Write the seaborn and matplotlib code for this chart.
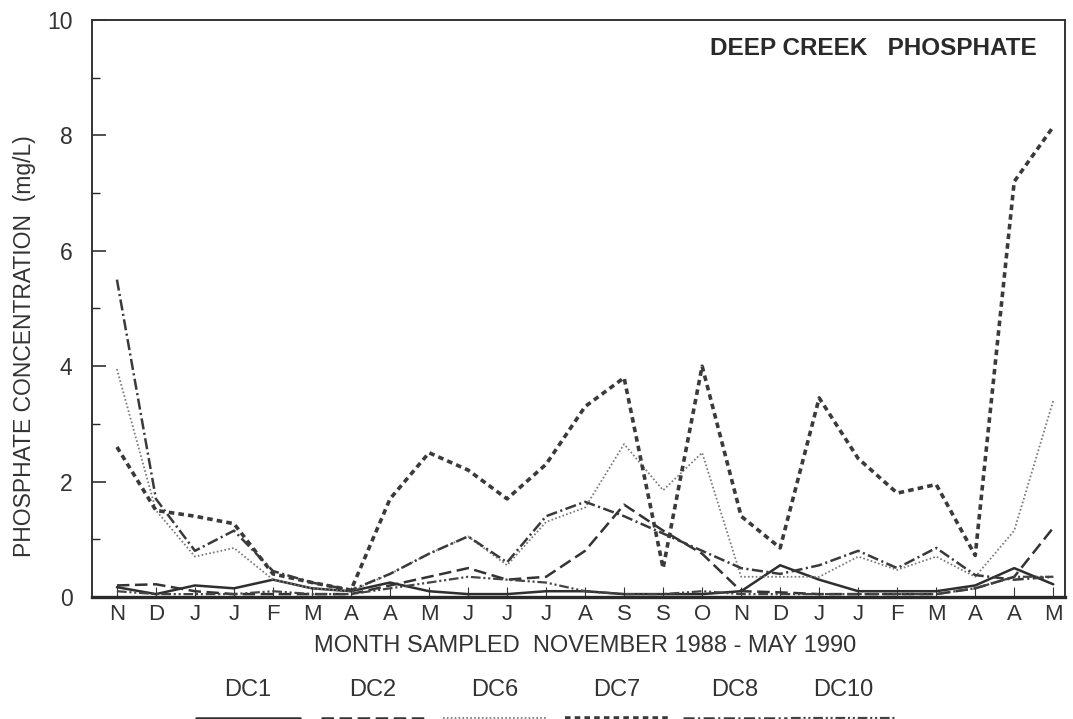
import numpy as np
import pandas as pd
import seaborn as sns
import matplotlib.pyplot as plt
from matplotlib.lines import Line2D

# month labels along the x axis (Nov 1988 - May 1990, some months sampled twice)
months = ["N", "D", "J", "J", "F", "M", "A", "A", "M", "J", "J", "J", "A",
          "S", "S", "O", "N", "D", "J", "J", "F", "M", "A", "A", "M"]

# phosphate concentration (mg/L)
dc1 = [0.17, 0.05, 0.2, 0.15, 0.3, 0.15, 0.1, 0.25, 0.1, 0.05, 0.05, 0.1, 0.1,
       0.05, 0.05, 0.05, 0.1, 0.55, 0.3, 0.1, 0.1, 0.1, 0.2, 0.5, 0.22]
dc2 = [0.2, 0.22, 0.1, 0.05, 0.05, 0.05, 0.05, 0.2, 0.35, 0.5, 0.3, 0.35, 0.8,
       1.6, 1.15, 0.75, 0.1, 0.08, 0.05, 0.05, 0.05, 0.05, 0.15, 0.35, 1.2]
dc6 = [3.95, 1.5, 0.7, 0.85, 0.3, 0.15, 0.1, 0.4, 0.75, 1.05, 0.55, 1.3, 1.55,
       2.65, 1.85, 2.5, 0.35, 0.35, 0.35, 0.7, 0.47, 0.7, 0.35, 1.15, 3.4]
dc7 = [2.6, 1.5, 1.4, 1.27, 0.4, 0.25, 0.12, 1.7, 2.5, 2.2, 1.7, 2.3, 3.3,
       3.8, 0.5, 4.0, 1.4, 0.85, 3.45, 2.4, 1.8, 1.95, 0.72, 7.2, 8.15]
dc8 = [5.5, 1.7, 0.8, 1.15, 0.45, 0.25, 0.12, 0.4, 0.75, 1.05, 0.6, 1.4, 1.65,
       1.4, 1.1, 0.8, 0.5, 0.4, 0.55, 0.8, 0.5, 0.85, 0.38, 0.3, 0.35]
dc10 = [0.1, 0.05, 0.05, 0.05, 0.1, 0.05, 0.05, 0.15, 0.25, 0.35, 0.3, 0.25, 0.1,
        0.05, 0.05, 0.1, 0.05, 0.05, 0.05, 0.05, 0.05, 0.05, 0.15, 0.35, 0.35]

sites = ["DC1", "DC2", "DC6", "DC7", "DC8", "DC10"]
series = [dc1, dc2, dc6, dc7, dc8, dc10]

# line looks per site (dashes in points)
looks = {
    "DC1": dict(ls="-", lw=1.8, color="#2e2e2e"),
    "DC2": dict(ls=(0, (9, 4)), lw=1.8, color="#333333"),
    "DC6": dict(ls=(0, (1.2, 1.6)), lw=1.3, color="#7a7a7a"),
    "DC7": dict(ls=(0, (4, 3)), lw=2.6, color="#3a3a3a"),
    "DC8": dict(ls=(0, (8, 2.5, 1.5, 2.5)), lw=1.8, color="#3a3a3a"),
    "DC10": dict(ls=(0, (7, 2, 1.5, 2, 1.5, 2)), lw=1.6, color="#444444"),
}

sns.set_style("ticks")
plt.rcParams['font.family'] = ['Liberation Sans', 'DejaVu Sans']
plt.rcParams['lines.scale_dashes'] = False

fig = plt.figure(figsize=(10.73, 7.19), dpi=100)
ax = fig.add_axes([0.0857, 0.1697, 0.9068, 0.8025])

x = np.arange(len(months))
for name, vals in zip(sites, series):
    st = looks[name]
    sns.lineplot(x=x, y=vals, ax=ax, color=st["color"], linewidth=st["lw"],
                 linestyle=st["ls"], sort=False)

ax.set_xlim(-0.64, 24.3)
ax.set_ylim(0, 10)
ax.set_xticks(x)
ax.set_xticklabels(months)
ax.set_yticks([0, 2, 4, 6, 8, 10])
ax.set_yticks([1, 3, 5, 7, 9], minor=True)
ax.tick_params(axis="x", direction="in", length=7, width=0.8, pad=5,
               labelsize=16, colors="#333333")
ax.tick_params(axis="y", which="major", direction="in", length=10, width=1.2,
               pad=14, labelsize=16.5, colors="#333333")
ax.tick_params(axis="y", which="minor", direction="in", length=6, width=1.0)
for s in ["left", "top", "right"]:
    ax.spines[s].set_linewidth(1.4)
    ax.spines[s].set_color("#333333")
ax.spines["bottom"].set_linewidth(2.4)
ax.spines["bottom"].set_color("#2a2a2a")

ax.set_ylabel("PHOSPHATE CONCENTRATION  (mg/L)", fontsize=16.5, color="#333333")
ax.yaxis.set_label_coords(-0.058, 0.435)
ax.set_xlabel("MONTH SAMPLED  NOVEMBER 1988 - MAY 1990", fontsize=17, color="#333333")
ax.xaxis.set_label_coords(0.507, -0.066)

ax.text(0.971, 0.951, "DEEP CREEK   PHOSPHATE", transform=ax.transAxes,
        ha="right", va="center", fontsize=17.5, fontweight="bold", color="#2a2a2a")

# legend: site names above short line samples (cut at the bottom edge)
leg_x = [248, 373, 495, 617, 735, 843]
for name, cx in zip(sites, leg_x):
    st = looks[name]
    fig.text(cx / 1073, 1 - 690 / 719, name, ha="center", va="center",
             fontsize=17, color="#333333")
    fig.add_artist(Line2D([(cx - 52) / 1073, (cx + 52) / 1073], [0.001, 0.001],
                          transform=fig.transFigure, color=st["color"],
                          lw=st["lw"], ls=st["ls"]))

fig.savefig("out.png", dpi=100)
